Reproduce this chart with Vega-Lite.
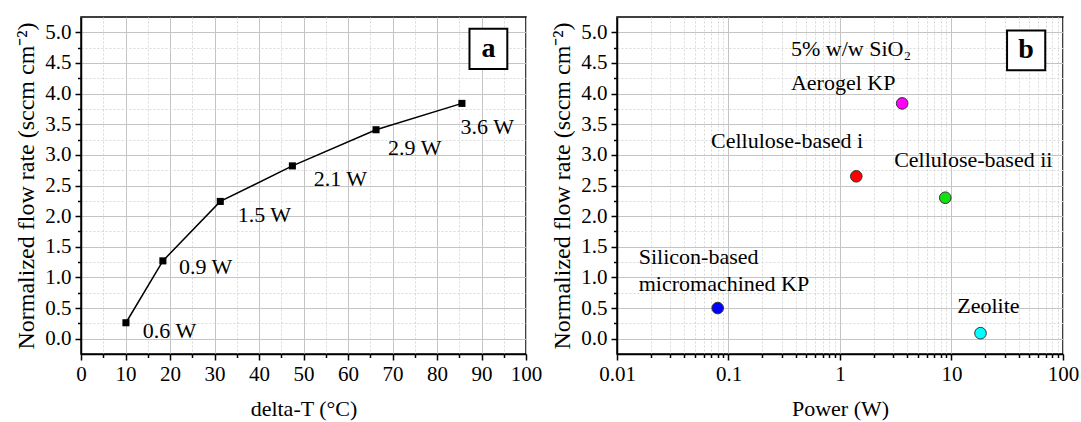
{
  "$schema": "https://vega.github.io/schema/vega-lite/v6.json",
  "background": "white",
  "padding": {"left": 14, "top": 16, "right": 5, "bottom": 5},
  "spacing": 7,
  "config": {
    "view": {"stroke": "black", "strokeWidth": 1.5},
    "font": "Liberation Serif",
    "axis": {
      "labelFont": "Liberation Serif", "titleFont": "Liberation Serif",
      "labelFontSize": 21, "titleFontSize": 22, "labelColor": "black", "titleColor": "black",
      "titleFontWeight": "normal", "domainColor": "black", "tickColor": "black",
      "domainWidth": 1.5, "tickWidth": 1.5, "labelFlush": false, "labelOverlap": false
    }
  },
  "datasets": {
    "a_pts": [
      {"dT": 10.1, "flow": 0.26, "power": "0.6 W", "lx": 13.9, "ly": 0.12},
      {"dT": 18.4, "flow": 1.27, "power": "0.9 W", "lx": 22.0, "ly": 1.17},
      {"dT": 31.3, "flow": 2.24, "power": "1.5 W", "lx": 35.2, "ly": 2.02},
      {"dT": 47.5, "flow": 2.82, "power": "2.1 W", "lx": 52.3, "ly": 2.60},
      {"dT": 66.3, "flow": 3.41, "power": "2.9 W", "lx": 69.0, "ly": 3.11},
      {"dT": 85.6, "flow": 3.84, "power": "3.6 W", "lx": 85.3, "ly": 3.45}
    ],
    "a_box": [{"x1": 87.3, "x2": 95.8, "y1": 4.40, "y2": 5.06, "xc": 91.55, "yc": 4.73, "tag": "a"}],
    "b_pts": [
      {"material": "Silicon-based micromachined KP", "P": 0.08, "flow": 0.5},
      {"material": "Cellulose-based i", "P": 1.40, "flow": 2.65},
      {"material": "Aerogel KP", "P": 3.61, "flow": 3.84},
      {"material": "Cellulose-based ii", "P": 8.79, "flow": 2.30},
      {"material": "Zeolite", "P": 18.2, "flow": 0.09}
    ],
    "b_labels": [
      {"text": "5% w/w SiO₂", "lx": 0.363, "ly": 4.72},
      {"text": "Aerogel KP", "lx": 0.363, "ly": 4.17},
      {"text": "Cellulose-based i", "lx": 0.0697, "ly": 3.22},
      {"text": "Cellulose-based ii", "lx": 3.06, "ly": 2.92},
      {"text": "Silicon-based", "lx": 0.01567, "ly": 1.34},
      {"text": "micromachined KP", "lx": 0.01567, "ly": 0.89},
      {"text": "Zeolite", "lx": 11.27, "ly": 0.53}
    ],
    "b_box": [{"x1": 31.5, "x2": 69.3, "y1": 4.38, "y2": 5.03, "xc": 46.7, "yc": 4.705, "tag": "b"}]
  },
  "hconcat": [
    {
      "width": 445, "height": 337,
      "resolve": {"axis": {"x": "independent", "y": "independent"}},
      "layer": [
        {
          "data": {"name": "a_pts"},
          "mark": {"type": "point", "opacity": 0},
          "encoding": {
            "x": {"field": "dT", "type": "quantitative", "scale": {"domain": [0, 100], "nice": false, "zero": false},
              "axis": {"orient": "bottom", "values": [5, 15, 25, 35, 45, 55, 65, 75, 85, 95], "labels": false, "domain": false, "tickSize": 3.5, "grid": true, "gridColor": "#d9d9d9", "gridDash": [2, 2], "gridWidth": 1, "title": null}},
            "y": {"field": "flow", "type": "quantitative", "scale": {"domain": [-0.25, 5.25], "nice": false, "zero": false},
              "axis": {"orient": "left", "values": [0.25, 0.75, 1.25, 1.75, 2.25, 2.75, 3.25, 3.75, 4.25, 4.75], "labels": false, "domain": false, "tickSize": 3.5, "grid": true, "gridColor": "#d9d9d9", "gridDash": [2, 2], "gridWidth": 1, "title": null}}
          }
        },
        {
          "data": {"name": "a_pts"},
          "mark": {"type": "line", "color": "black", "strokeWidth": 1.5},
          "encoding": {
            "x": {"field": "dT", "type": "quantitative", "scale": {"domain": [0, 100], "nice": false, "zero": false},
              "axis": {"orient": "bottom", "values": [0, 10, 20, 30, 40, 50, 60, 70, 80, 90, 100], "tickSize": 6, "labelPadding": 3, "grid": true, "gridColor": "#c4c4c4", "gridWidth": 1, "title": "delta-T (°C)", "titlePadding": 14}},
            "y": {"field": "flow", "type": "quantitative", "scale": {"domain": [-0.25, 5.25], "nice": false, "zero": false},
              "axis": {"orient": "left", "values": [0, 0.5, 1, 1.5, 2, 2.5, 3, 3.5, 4, 4.5, 5], "format": ".1f", "tickSize": 6, "labelPadding": 4, "grid": true, "gridColor": "#c4c4c4", "gridWidth": 1, "title": "Normalized flow rate (sccm cm⁻²)", "titleFontSize": 24, "titlePadding": 6}}
          }
        },
        {
          "data": {"name": "a_pts"},
          "mark": {"type": "point", "shape": "square", "filled": true, "color": "black", "size": 50, "opacity": 1},
          "encoding": {
            "x": {"field": "dT", "type": "quantitative", "axis": null},
            "y": {"field": "flow", "type": "quantitative", "axis": null}
          }
        },
        {
          "data": {"name": "a_pts"},
          "mark": {"type": "text", "align": "left", "baseline": "middle", "fontSize": 22, "font": "Liberation Serif", "color": "black"},
          "encoding": {
            "x": {"field": "lx", "type": "quantitative", "axis": null},
            "y": {"field": "ly", "type": "quantitative", "axis": null},
            "text": {"field": "power"}
          }
        },
        {
          "data": {"name": "a_box"},
          "mark": {"type": "rect", "fill": "white", "stroke": "black", "strokeWidth": 2},
          "encoding": {
            "x": {"field": "x1", "type": "quantitative", "axis": null},
            "x2": {"field": "x2"},
            "y": {"field": "y1", "type": "quantitative", "axis": null},
            "y2": {"field": "y2"}
          }
        },
        {
          "data": {"name": "a_box"},
          "mark": {"type": "text", "align": "center", "baseline": "middle", "fontSize": 28, "fontWeight": "bold", "font": "Liberation Serif", "color": "black"},
          "encoding": {
            "x": {"field": "xc", "type": "quantitative", "axis": null},
            "y": {"field": "yc", "type": "quantitative", "axis": null},
            "text": {"field": "tag"}
          }
        }
      ]
    },
    {
      "width": 446, "height": 337,
      "resolve": {"axis": {"x": "independent", "y": "independent"}},
      "layer": [
        {
          "data": {"name": "b_pts"},
          "mark": {"type": "point", "opacity": 0},
          "encoding": {
            "x": {"field": "P", "type": "quantitative", "scale": {"type": "log", "domain": [0.01, 100], "nice": false},
              "axis": {"orient": "bottom", "values": [0.02, 0.03, 0.04, 0.05, 0.06, 0.07, 0.08, 0.09, 0.2, 0.3, 0.4, 0.5, 0.6, 0.7, 0.8, 0.9, 2, 3, 4, 5, 6, 7, 8, 9, 20, 30, 40, 50, 60, 70, 80, 90], "labels": false, "domain": false, "tickSize": 3.5, "grid": true, "gridColor": "#d9d9d9", "gridDash": [2, 2], "gridWidth": 1, "title": null}},
            "y": {"field": "flow", "type": "quantitative", "scale": {"domain": [-0.25, 5.25], "nice": false, "zero": false},
              "axis": {"orient": "left", "values": [0.25, 0.75, 1.25, 1.75, 2.25, 2.75, 3.25, 3.75, 4.25, 4.75], "labels": false, "domain": false, "tickSize": 3.5, "grid": true, "gridColor": "#d9d9d9", "gridDash": [2, 2], "gridWidth": 1, "title": null}}
          }
        },
        {
          "data": {"name": "b_pts"},
          "mark": {"type": "point", "filled": true, "shape": "circle", "size": 135, "opacity": 1, "stroke": "#333333", "strokeWidth": 1},
          "encoding": {
            "x": {"field": "P", "type": "quantitative", "scale": {"type": "log", "domain": [0.01, 100], "nice": false},
              "axis": {"orient": "bottom", "values": [0.01, 0.1, 1, 10, 100], "format": "~g", "tickSize": 6, "labelPadding": 3, "grid": true, "gridColor": "#c4c4c4", "gridWidth": 1, "title": "Power (W)", "titlePadding": 14}},
            "y": {"field": "flow", "type": "quantitative", "scale": {"domain": [-0.25, 5.25], "nice": false, "zero": false},
              "axis": {"orient": "left", "values": [0, 0.5, 1, 1.5, 2, 2.5, 3, 3.5, 4, 4.5, 5], "format": ".1f", "tickSize": 6, "labelPadding": 4, "grid": true, "gridColor": "#c4c4c4", "gridWidth": 1, "title": "Normalized flow rate (sccm cm⁻²)", "titleFontSize": 24, "titlePadding": 6}},
            "fill": {"field": "material", "type": "nominal", "legend": null,
              "scale": {"domain": ["Silicon-based micromachined KP", "Cellulose-based i", "Aerogel KP", "Cellulose-based ii", "Zeolite"], "range": ["#0000ff", "#ff0000", "#ff00ff", "#11e011", "#00ffff"]}}
          }
        },
        {
          "data": {"name": "b_labels"},
          "mark": {"type": "text", "align": "left", "baseline": "middle", "fontSize": 22, "font": "Liberation Serif", "color": "black"},
          "encoding": {
            "x": {"field": "lx", "type": "quantitative", "axis": null},
            "y": {"field": "ly", "type": "quantitative", "axis": null},
            "text": {"field": "text"}
          }
        },
        {
          "data": {"name": "b_box"},
          "mark": {"type": "rect", "fill": "white", "stroke": "black", "strokeWidth": 2},
          "encoding": {
            "x": {"field": "x1", "type": "quantitative", "axis": null},
            "x2": {"field": "x2"},
            "y": {"field": "y1", "type": "quantitative", "axis": null},
            "y2": {"field": "y2"}
          }
        },
        {
          "data": {"name": "b_box"},
          "mark": {"type": "text", "align": "center", "baseline": "middle", "fontSize": 28, "fontWeight": "bold", "font": "Liberation Serif", "color": "black"},
          "encoding": {
            "x": {"field": "xc", "type": "quantitative", "axis": null},
            "y": {"field": "yc", "type": "quantitative", "axis": null},
            "text": {"field": "tag"}
          }
        }
      ]
    }
  ]
}
